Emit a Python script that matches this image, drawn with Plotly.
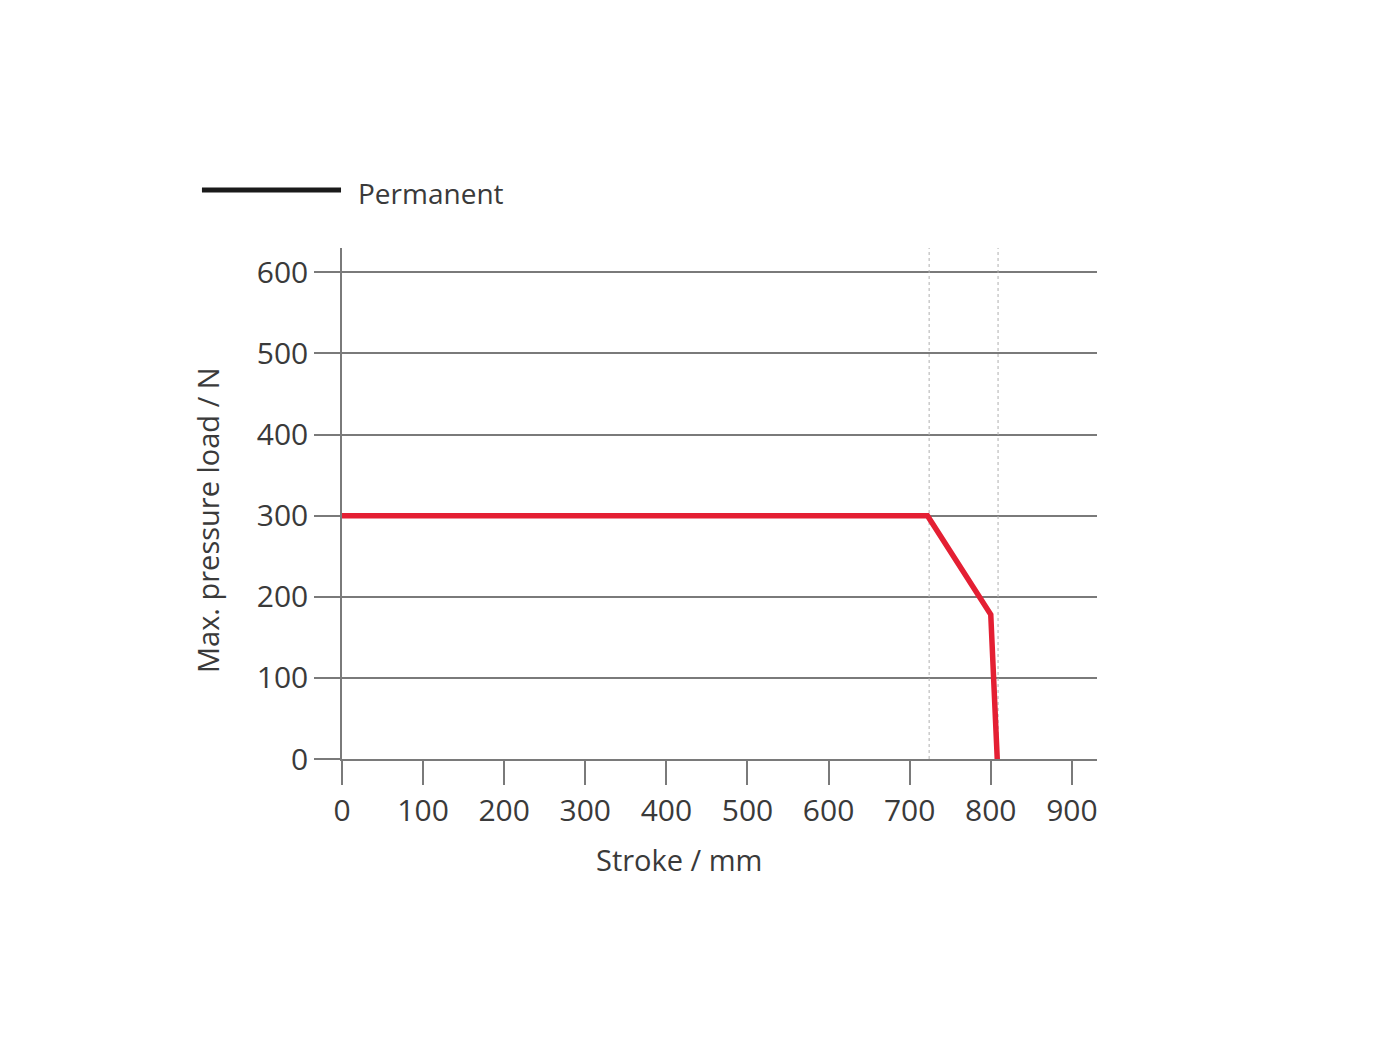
import plotly.graph_objects as go

# Data
stroke = [0, 722, 800, 808]
load = [300, 300, 178, 0]
ref_lines_x = [724, 809]
x_ticks = [0, 100, 200, 300, 400, 500, 600, 700, 800, 900]
y_ticks = [0, 100, 200, 300, 400, 500, 600]
legend_label = "Permanent"
x_title = "Stroke / mm"
y_title = "Max. pressure load / N"

GRID = "#7a7a7a"
TXT = "#3a3a3a"
FONT = "Open Sans"

fig = go.Figure()

for xv in ref_lines_x:
    fig.add_trace(go.Scatter(x=[xv, xv], y=[0, 630], mode="lines",
                             line=dict(color="#b0b0b0", width=1, dash="dot"),
                             showlegend=False, hoverinfo="skip"))

fig.add_trace(go.Scatter(x=stroke, y=load, mode="lines",
                         line=dict(color="#e41f33", width=5.5),
                         showlegend=False))

fig.update_layout(
    width=1400, height=1050,
    paper_bgcolor="white", plot_bgcolor="white",
    margin=dict(l=334, r=311, t=240, b=299),
    font=dict(family=FONT, size=30, color=TXT),
    xaxis=dict(range=[0, 931], tickvals=x_ticks, showgrid=False,
               showline=True, linecolor=GRID, linewidth=1.5,
               ticks="outside", ticklen=24, tickwidth=1.5, tickcolor=GRID,
               zeroline=False,
               tickfont=dict(size=30, color=TXT)),
    yaxis=dict(range=[0, 630], tickvals=y_ticks, showgrid=True,
               gridcolor=GRID, gridwidth=1.5,
               showline=True, linecolor=GRID, linewidth=1.5,
               ticks="outside", ticklen=26, tickwidth=1.5, tickcolor=GRID,
               zeroline=False,
               tickfont=dict(size=30, color=TXT)),
    showlegend=False,
)

# Axis titles
fig.add_annotation(text=x_title, xref="paper", yref="paper",
                   x=0.446, y=-0.196, xanchor="center", yanchor="middle",
                   showarrow=False, font=dict(size=29, color=TXT, family=FONT))
fig.add_annotation(text=y_title, xref="paper", yref="paper", textangle=-90,
                   x=-0.1788, y=0.4677, xanchor="center", yanchor="middle",
                   showarrow=False, font=dict(size=29, color=TXT, family=FONT))

# Legend drawn as a line sample plus label
fig.add_shape(type="line", xref="paper", yref="paper",
              x0=-0.1855, x1=-0.0013, y0=1.1135, y1=1.1135,
              line=dict(color="#1a1a1a", width=5))
fig.add_annotation(text=legend_label, xref="paper", yref="paper",
                   x=0.019, y=1.107, xanchor="left", yanchor="middle",
                   showarrow=False, font=dict(size=28, color=TXT, family=FONT))

fig.write_html("out.html")
